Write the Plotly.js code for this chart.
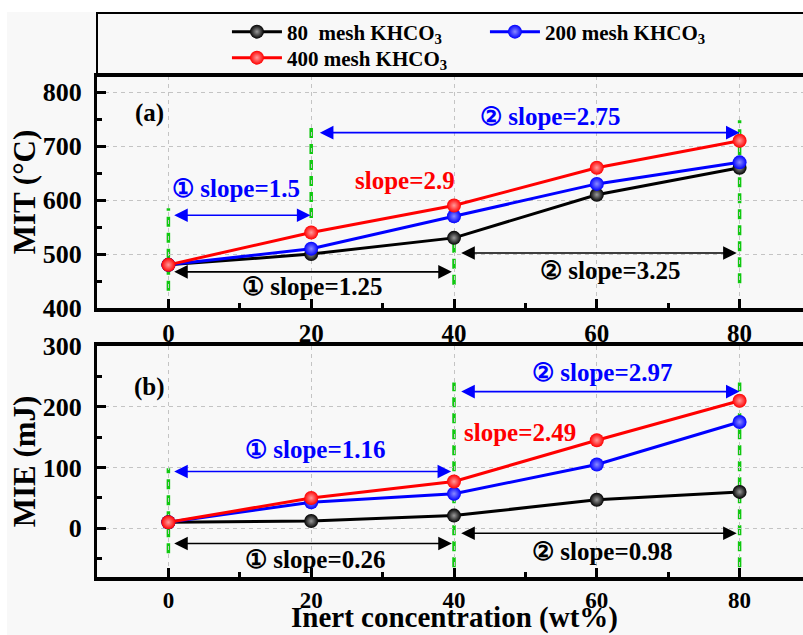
<!DOCTYPE html>
<html><head><meta charset="utf-8">
<script src="https://cdn.plot.ly/plotly-3.0.1.min.js"></script>
<style>
html,body{margin:0;padding:0;background:#fff;overflow:hidden;width:803px;height:635px;}
#chart{position:absolute;left:7px;top:12px;width:824px;height:623px;}
</style></head><body><div id="chart"></div>
<script>
// ---- data ----
const concentration = [0, 20, 40, 60, 80];
const seriesNames = ['80\u00a0 mesh KHCO<sub>3</sub>', '200 mesh KHCO<sub>3</sub>', '400 mesh KHCO<sub>3</sub>'];
const mit80 = [480, 500, 530, 610, 660];
const mit200 = [480, 510, 570, 630, 670];
const mit400 = [480, 540, 590, 660, 710];
const mie80 = [10, 12, 21, 47, 60];
const mie200 = [10, 43, 57, 105, 175];
const mie400 = [10, 50, 77, 145, 210];
const xTickVals = [0, 20, 40, 60, 80];
const xMinorVals = [10, 30, 50, 70];
const xTitle = 'Inert concentration (wt%)';

// ---- styles ----
const FONT = '"Liberation Serif", "Times New Roman", serif';
const colors = ['#000000', '#0000ff', '#ff0000'];
const centers = ['#9a9a9a', '#8a8aff', '#ff9a9a'];
const GREEN = '#10c810';

const mitSeries = [mit80, mit200, mit400];
const mieSeries = [mie80, mie200, mie400];
const traces = [];
for (let i = 0; i < 3; i++) {
  traces.push({
    x: concentration, y: mitSeries[i], xaxis: 'x', yaxis: 'y', mode: 'lines+markers', name: seriesNames[i],
    showlegend: true, legend: i < 2 ? 'legend' : 'legend2',
    line: {color: colors[i], width: 3},
    marker: {size: 14, color: colors[i], line: {width: 0}, gradient: {type: 'radial', color: centers[i]}}
  });
}
for (let i = 0; i < 3; i++) {
  traces.push({
    x: concentration, y: mieSeries[i], xaxis: 'x2', yaxis: 'y2', mode: 'lines+markers', name: seriesNames[i], showlegend: false,
    line: {color: colors[i], width: 3},
    marker: {size: 14, color: colors[i], line: {width: 0}, gradient: {type: 'radial', color: centers[i]}}
  });
}

function xAxis(anchor, fsize) {
  return {
    anchor: anchor, domain: [0, 1], range: [-10, 90], tickmode: 'array', tickvals: xTickVals,
    ticks: 'inside', ticklen: 9, tickwidth: 3, tickcolor: '#000',
    showline: true, linewidth: 3.5, linecolor: '#000', mirror: true,
    showgrid: true, gridcolor: '#c4c4c4', gridwidth: 1, griddash: '4px,4px', zeroline: false,
    minor: {tickmode: 'array', tickvals: xMinorVals, ticks: 'inside', ticklen: 5, tickwidth: 3, tickcolor: '#000', showgrid: false},
    tickfont: {family: FONT, size: fsize, color: '#000', weight: 700}
  };
}
function yAxis(anchor, domain, range, title) {
  return {
    anchor: anchor, domain: domain, range: range, tickmode: 'linear', tick0: 0, dtick: 100,
    ticks: 'inside', ticklen: 9, tickwidth: 3, tickcolor: '#000',
    showline: true, linewidth: 3.5, linecolor: '#000', mirror: true,
    showgrid: true, gridcolor: '#c4c4c4', gridwidth: 1, griddash: '4px,4px', zeroline: false,
    minor: {tick0: 0, dtick: 50, ticks: 'inside', ticklen: 5, tickwidth: 3, tickcolor: '#000', showgrid: false},
    tickfont: {family: FONT, size: 26, color: '#000', weight: 700},
    ticksuffix: '\u2005',
    title: {text: title, font: {family: FONT, size: 31, color: '#000', weight: 700}, standoff: 0}
  };
}

function arrow(xr, yr, x0, x1, y, color) {
  return {xref: xr, yref: yr, axref: xr, ayref: yr, x: x1, y: y, ax: x0, ay: y, text: '',
    showarrow: true, arrowside: 'end+start', arrowhead: 2, startarrowhead: 2,
    arrowsize: 1.7, startarrowsize: 1.7, arrowwidth: 1.6, arrowcolor: color, standoff: 0, startstandoff: 0};
}
function label(xr, yr, x, y, text, color) {
  return {xref: xr, yref: yr, x: x, y: y, text: text, showarrow: false, xanchor: 'center', yanchor: 'middle',
    font: {family: FONT, size: 25, color: color, weight: 700}};
}
function green(xr, yr, x, y0, y1) {
  return {type: 'line', xref: xr, yref: yr, x0: x, x1: x, y0: y0, y1: y1, layer: 'below',
    line: {color: GREEN, width: 3.5, dash: '10px,6px'}};
}

const annotations = [
  label('x', 'y', -2.6, 761, '(a)', '#000'),
  arrow('x', 'y', 0.6, 19.9, 572, '#0000ff'),
  label('x', 'y', 9.4, 622, '\u2460 slope=1.5', '#0000ff'),
  arrow('x', 'y', 21, 80, 725, '#0000ff'),
  label('x', 'y', 53.5, 755, '\u2461 slope=2.75', '#0000ff'),
  label('x', 'y', 33.2, 637, 'slope=2.9', '#ff0000'),
  arrow('x', 'y', 0.6, 39.7, 467, '#000'),
  label('x', 'y', 20.1, 439, '\u2460 slope=1.25', '#000'),
  arrow('x', 'y', 40.8, 79.6, 502, '#000'),
  label('x', 'y', 61.8, 470, '\u2461 slope=3.25', '#000'),

  label('x2', 'y2', -2.6, 232, '(b)', '#000'),
  arrow('x2', 'y2', 0.6, 39.6, 93.5, '#0000ff'),
  label('x2', 'y2', 20.6, 130, '\u2460 slope=1.16', '#0000ff'),
  arrow('x2', 'y2', 40.8, 80, 225, '#0000ff'),
  label('x2', 'y2', 60.7, 256.6, '\u2461 slope=2.97', '#0000ff'),
  label('x2', 'y2', 49.2, 157, 'slope=2.49', '#ff0000'),
  arrow('x2', 'y2', 0.6, 39.7, -25, '#000'),
  label('x2', 'y2', 20.5, -50.6, '\u2460 slope=0.26', '#000'),
  arrow('x2', 'y2', 40.8, 79.6, -8, '#000'),
  label('x2', 'y2', 60.7, -38.7, '\u2461 slope=0.98', '#000'),

  // x-axis title of the lower panel
  {xref: 'paper', yref: 'paper', x: 0.5, y: -0.1160, xanchor: 'center', yanchor: 'bottom', showarrow: false,
    borderpad: 0, text: xTitle, font: {family: FONT, size: 29, color: '#000', weight: 700}}
];

const shapes = [
  {type: 'rect', xref: 'paper', yref: 'paper', x0: 0, x1: 1.1, y0: 1, y1: 1.1257, line: {color: '#000', width: 2}, fillcolor: 'rgba(0,0,0,0)'},
  green('x', 'y', 0, 432, 585),
  green('x', 'y', 20, 567, 740),
  green('x', 'y', 40, 443, 526),
  green('x', 'y', 80, 446, 748),
  green('x2', 'y2', 0, -41, 99),
  green('x2', 'y2', 40, -64, 240),
  green('x2', 'y2', 80, -64, 240)
];

const legendFont = {family: FONT, size: 21, color: '#000', weight: 700};
const layout = {
  width: 824, height: 623,
  margin: {l: 90, r: 20, t: 64, b: 58, autoexpand: false},
  paper_bgcolor: '#f8f8f8', plot_bgcolor: '#f8f8f8',
  font: {family: FONT, color: '#000'},
  xaxis: xAxis('y', 25),
  yaxis: yAxis('x', [0.5369, 1], [400, 830], 'MIT (°C)'),
  xaxis2: xAxis('y2', 23),
  yaxis2: yAxis('x2', [0, 0.4611], [-80, 300], 'MIE (mJ)'),
  legend: {x: 0.182, y: 1.0878, xanchor: 'left', yanchor: 'middle', orientation: 'h', font: legendFont,
    bgcolor: 'rgba(0,0,0,0)', itemwidth: 50, entrywidth: 193, entrywidthmode: 'pixels', traceorder: 'normal'},
  legend2: {x: 0.182, y: 1.0359, xanchor: 'left', yanchor: 'middle', orientation: 'h', font: legendFont,
    bgcolor: 'rgba(0,0,0,0)', itemwidth: 50},
  annotations: annotations,
  shapes: shapes,
  showlegend: true
};
Plotly.newPlot('chart', traces, layout, {displayModeBar: false, staticPlot: true});
</script></body></html>
